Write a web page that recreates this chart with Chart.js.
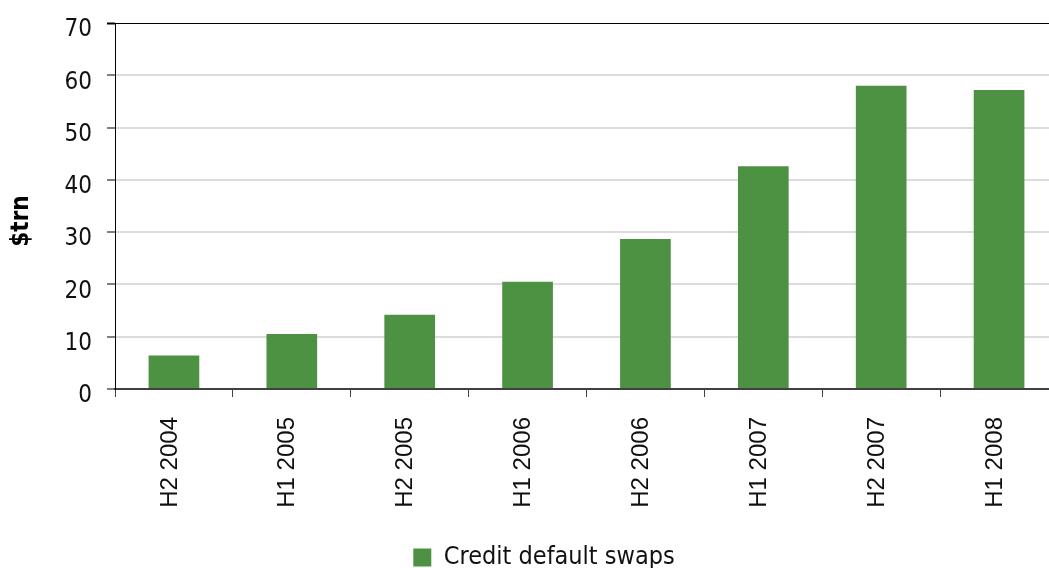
<!DOCTYPE html>
<html>
<head>
<meta charset="utf-8">
<script src="https://cdn.jsdelivr.net/npm/chart.js@4/dist/chart.umd.min.js"></script>
<style>
  html, body { margin: 0; padding: 0; background: #fff; overflow: hidden; }
  #wrap { width: 1049px; height: 568px; overflow: hidden; position: relative; }
  #chart { display: block; }
</style>
</head>
<body>
<div id="wrap"><canvas id="chart" width="1058" height="580"></canvas></div>
<script>
// data
const periods = ['H2 2004', 'H1 2005', 'H2 2005', 'H1 2006', 'H2 2006', 'H1 2007', 'H2 2007', 'H1 2008'];
const cdsValues = [6.4, 10.5, 14.2, 20.5, 28.7, 42.6, 58.0, 57.2];
const seriesName = 'Credit default swaps';
const yTicks = [0, 10, 20, 30, 40, 50, 60, 70];

const green = '#4d9143';
const condensed = "'DejaVu Sans Condensed', 'DejaVu Sans', sans-serif";

// nudge the legend so it sits where the original one does
const legendShift = {
  id: 'legendShift',
  afterLayout(chart) {
    chart.legend.left += 15;
    chart.legend.right += 15;
  }
};

new Chart(document.getElementById('chart'), {
  type: 'bar',
  data: {
    labels: periods,
    datasets: [{
      label: seriesName,
      data: cdsValues,
      backgroundColor: green,
      borderWidth: 0,
      barPercentage: 0.43,
      categoryPercentage: 1
    }]
  },
  options: {
    responsive: false,
    animation: false,
    devicePixelRatio: 1,
    layout: { padding: { top: 23, left: 0, right: 0, bottom: 0 } },
    plugins: {
      tooltip: { enabled: false },
      legend: {
        position: 'bottom',
        labels: {
          boxWidth: 18,
          boxHeight: 18,
          padding: 10,
          color: '#111',
          font: { family: condensed, size: 25 }
        }
      }
    },
    scales: {
      x: {
        offset: true,
        border: { color: '#404040', width: 2 },
        grid: {
          offset: true,
          drawOnChartArea: false,
          tickLength: 8,
          color: '#404040',
          lineWidth: 1
        },
        ticks: {
          minRotation: 90,
          maxRotation: 90,
          padding: 20,
          labelOffset: -4,
          color: '#111',
          font: { family: "'Liberation Sans', Arial, sans-serif", size: 24 }
        },
        afterFit(scale) { scale.height = 146; }
      },
      y: {
        min: 0,
        max: 70,
        border: { color: '#000', width: 1 },
        grid: {
          tickLength: 8,
          color: ctx => ctx.tick && ctx.tick.value === 70 ? '#000' : '#dcdcdc',
          lineWidth: ctx => ctx.tick && ctx.tick.value === 70 ? 1 : 2,
          tickColor: ctx => ctx.tick && ctx.tick.value === 70 ? '#000' : '#808080',
          tickWidth: 2
        },
        afterBuildTicks(scale) {
          scale.ticks = yTicks.map(v => ({ value: v }));
        },
        ticks: {
          padding: 15,
          labelOffset: 7,
          color: '#111',
          font: { family: condensed, size: 24 }
        },
        title: {
          display: true,
          // trailing spaces push the rotated title down to where the original sits
          text: '$trn    ',
          color: '#000',
          padding: { top: 7, bottom: 0 },
          font: { family: condensed, size: 24, weight: 'bold' }
        },
        afterFit(scale) {
          scale.width = 115;
          scale.paddingTop = 0;
          scale.paddingBottom = 0;
        }
      }
    }
  },
  plugins: [legendShift]
});
</script>
</body>
</html>
